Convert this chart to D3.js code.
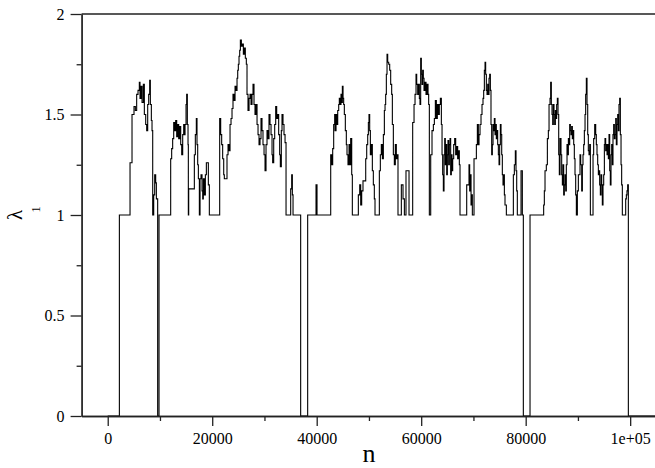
<!DOCTYPE html>
<html>
<head>
<meta charset="utf-8">
<script src="https://cdn.jsdelivr.net/npm/d3@7"></script>
<style>
    html, body { margin: 0; padding: 0; background: #ffffff; }
    svg { display: block; }
</style>
</head>
<body>
<div id="chart"></div>
<script>
// step positions (n) and the value of lambda_1 held from each position on
const stepN = [
    0, 2230, 4270, 4650, 5030, 5290, 5540, 5800, 6050, 6180,
    6370, 6570, 6820, 7010, 7270, 7460, 7650, 7840, 8030, 8160,
    8350, 8480, 8610, 8800, 8990, 9180, 9310, 9560, 9820, 12050,
    12240, 12430, 12630, 12820, 13010, 13200, 13390, 13580, 13770, 13970,
    14160, 14350, 14540, 14730, 14800, 14990, 15110, 15240, 15370, 15430,
    15500, 16580, 16770, 16960, 17090, 17220, 17350, 17540, 17670, 17860,
    18050, 18180, 18300, 18500, 18690, 18880, 19260, 19450, 21430, 21620,
    21810, 22000, 22200, 22320, 22830, 23030, 23220, 23410, 23600, 23790,
    23980, 24170, 24370, 24560, 24750, 24880, 25000, 25130, 25260, 25390,
    25580, 25770, 25960, 26150, 26340, 26530, 26660, 26850, 27050, 27240,
    27430, 27620, 27810, 28000, 28190, 28380, 28580, 28770, 28960, 29150,
    29340, 29530, 29720, 29920, 30110, 30300, 30490, 30680, 30870, 31060,
    31260, 31450, 31570, 31770, 31960, 32150, 32340, 32530, 32720, 32910,
    33040, 33230, 33360, 33550, 33740, 33940, 34130, 35020, 35210, 35340,
    35470, 36930, 38270, 39870, 40060, 42680, 42870, 43060, 43250, 43440,
    43510, 43700, 43820, 44020, 44210, 44330, 44530, 44650, 44780, 44910,
    45040, 45160, 45290, 45480, 45670, 45800, 45990, 46190, 46380, 46500,
    46700, 46820, 47970, 48230, 48420, 48610, 48860, 49380, 49570, 49760,
    49890, 50010, 50140, 50270, 50460, 50650, 50840, 51030, 51160, 51990,
    52180, 52370, 52570, 52760, 52950, 53080, 53200, 53330, 53460, 53590,
    53780, 53970, 54160, 54350, 54480, 54670, 54860, 55050, 55240, 55440,
    55560, 56200, 56520, 56780, 57090, 57670, 58370, 58630, 58820, 59010,
    59140, 59330, 59520, 59650, 59770, 59900, 60030, 60160, 60280, 60410,
    60540, 60730, 60920, 61110, 61310, 61430, 61560, 61820, 62070, 62330,
    62520, 62710, 62900, 63090, 63280, 63470, 63670, 63860, 63990, 64110,
    64240, 64370, 64500, 64620, 64750, 64880, 65010, 65130, 65260, 65390,
    65520, 65640, 65770, 65900, 66030, 66220, 66410, 66600, 66790, 66980,
    67180, 67300, 67430, 68710, 69150, 69280, 69410, 69540, 69660, 69790,
    70110, 70560, 70750, 70940, 71070, 71260, 71450, 71640, 71830, 71960,
    72090, 72220, 72340, 72470, 72600, 72730, 72850, 72980, 73110, 73240,
    73360, 73490, 73620, 73750, 73870, 74000, 74130, 74260, 74380, 74510,
    74640, 74770, 74900, 75020, 75150, 75280, 75410, 75530, 75660, 75790,
    75920, 76040, 76300, 77640, 77830, 78020, 78150, 78280, 78400, 79110,
    79360, 79550, 80830, 83440, 83570, 83700, 83950, 84150, 84340, 84470,
    84660, 84780, 84910, 85040, 85170, 85290, 85420, 85550, 85680, 85800,
    85930, 86060, 86190, 86320, 86440, 86570, 86760, 86890, 87020, 87140,
    87270, 87400, 87530, 87660, 87780, 87910, 88040, 88170, 88290, 88420,
    88550, 88680, 88800, 88930, 89060, 89190, 89310, 89440, 89570, 89700,
    89890, 90080, 90400, 90530, 90720, 90850, 90970, 91100, 91230, 91360,
    91480, 91610, 91740, 91870, 91990, 92120, 92250, 92380, 92890, 93010,
    93210, 93400, 93520, 93650, 93780, 93910, 94040, 94160, 94290, 94420,
    94550, 94670, 94800, 94930, 95060, 95180, 95310, 95440, 95570, 95690,
    95820, 95950, 96080, 96200, 96330, 96460, 96590, 96710, 96840, 96970,
    97100, 97230, 97350, 97480, 97610, 97740, 97860, 97990, 98120, 98250,
    98370, 98500, 99140, 99270, 99390, 99520, 99650, 105000
];

const stepLambda = [
    0, 1.0, 1.26, 1.5, 1.54, 1.52, 1.6, 1.62, 1.66, 1.58,
    1.64, 1.56, 1.65, 1.5, 1.45, 1.42, 1.55, 1.6, 1.67, 1.55,
    1.47, 1.42, 1.0, 1.1, 1.2, 1.16, 1.08, 0, 1.0, 1.28,
    1.33, 1.38, 1.46, 1.42, 1.47, 1.39, 1.45, 1.38, 1.44, 1.35,
    1.3, 1.4, 1.45, 1.4, 1.45, 1.55, 1.6, 1.45, 1.35, 1.0,
    1.13, 1.3, 1.4, 1.48, 1.35, 1.25, 1.18, 1.0, 1.18, 1.2,
    1.12, 1.08, 1.18, 1.1, 1.2, 1.26, 1.15, 1.0, 1.48, 1.4,
    1.35, 1.28, 1.2, 1.18, 1.3, 1.35, 1.32, 1.45, 1.48, 1.53,
    1.6, 1.57, 1.64, 1.62, 1.68, 1.72, 1.75, 1.79, 1.82, 1.87,
    1.84, 1.85, 1.8, 1.83, 1.78, 1.75, 1.6, 1.52, 1.58, 1.6,
    1.55, 1.6, 1.65, 1.55, 1.5, 1.55, 1.45, 1.4, 1.35, 1.38,
    1.48, 1.42, 1.35, 1.3, 1.22, 1.35, 1.42, 1.38, 1.5, 1.45,
    1.4, 1.3, 1.26, 1.38, 1.45, 1.54, 1.48, 1.5, 1.4, 1.3,
    1.24, 1.42, 1.5, 1.45, 1.4, 1.36, 1.0, 1.13, 1.2, 1.1,
    1.0, 0, 1.0, 1.15, 1.0, 1.3, 1.25, 1.33, 1.45, 1.5,
    1.42, 1.5, 1.45, 1.52, 1.55, 1.58, 1.55, 1.6, 1.56, 1.64,
    1.58, 1.55, 1.5, 1.42, 1.35, 1.3, 1.25, 1.35, 1.25, 1.38,
    1.2, 1.0, 1.1, 1.15, 1.05, 1.12, 1.17, 1.28, 1.35, 1.4,
    1.46, 1.5, 1.42, 1.3, 1.35, 1.22, 1.15, 1.08, 1.0, 1.22,
    1.3, 1.35, 1.28, 1.4, 1.52, 1.55, 1.6, 1.7, 1.8, 1.76,
    1.75, 1.72, 1.65, 1.6, 1.45, 1.3, 1.25, 1.35, 1.28, 1.3,
    1.0, 1.15, 1.08, 1.0, 1.22, 1.0, 1.46, 1.55, 1.6, 1.7,
    1.65, 1.6, 1.65, 1.58, 1.55, 1.78, 1.7, 1.65, 1.72, 1.68,
    1.62, 1.66, 1.6, 1.65, 1.6, 1.55, 1.0, 1.3, 1.42, 1.45,
    1.48, 1.57, 1.48, 1.55, 1.5, 1.55, 1.58, 1.45, 1.3, 1.2,
    1.12, 1.3, 1.38, 1.25, 1.35, 1.2, 1.3, 1.37, 1.25, 1.35,
    1.38, 1.2, 1.3, 1.22, 1.28, 1.35, 1.38, 1.3, 1.34, 1.28,
    1.32, 1.25, 1.0, 1.15, 1.25, 1.12, 1.2, 1.05, 1.1, 1.0,
    1.28, 1.35, 1.45, 1.35, 1.4, 1.45, 1.5, 1.55, 1.58, 1.62,
    1.72, 1.76, 1.7, 1.62, 1.6, 1.65, 1.6, 1.68, 1.7, 1.62,
    1.45, 1.3, 1.35, 1.45, 1.42, 1.48, 1.4, 1.45, 1.38, 1.42,
    1.35, 1.3, 1.25, 1.35, 1.45, 1.4, 1.3, 1.2, 1.15, 1.2,
    1.1, 1.05, 1.0, 1.2, 1.25, 1.32, 1.22, 1.12, 1.0, 1.22,
    1.0, 0, 1.0, 1.05, 1.12, 1.22, 1.25, 1.38, 1.42, 1.55,
    1.58, 1.66, 1.55, 1.5, 1.45, 1.55, 1.5, 1.45, 1.52, 1.48,
    1.55, 1.58, 1.5, 1.3, 1.2, 1.38, 1.3, 1.2, 1.15, 1.25,
    1.1, 1.15, 1.2, 1.12, 1.25, 1.35, 1.3, 1.38, 1.35, 1.45,
    1.42, 1.4, 1.44, 1.38, 1.42, 1.35, 1.28, 1.2, 1.1, 1.0,
    1.12, 1.2, 1.3, 1.25, 1.12, 1.25, 1.3, 1.35, 1.42, 1.5,
    1.6, 1.68, 1.55, 1.4, 1.32, 1.3, 1.35, 1.0, 1.3, 1.38,
    1.45, 1.4, 1.35, 1.3, 1.25, 1.2, 1.22, 1.15, 1.1, 1.2,
    1.15, 1.05, 1.15, 1.2, 1.35, 1.38, 1.32, 1.35, 1.3, 1.35,
    1.28, 1.4, 1.22, 1.15, 1.3, 1.35, 1.25, 1.4, 1.45, 1.38,
    1.4, 1.48, 1.35, 1.45, 1.5, 1.42, 1.55, 1.58, 1.4, 1.25,
    1.15, 1.0, 1.08, 1.1, 1.12, 1.15, 0, 0
];

const xMajorTicks = [0, 20000, 40000, 60000, 80000, 100000];
const xMinorTicks = [10000, 30000, 50000, 70000, 90000];
const yMajorTicks = [0, 0.5, 1, 1.5, 2];
const yMinorTicks = [0.25, 0.75, 1.25, 1.75];

function drawLambdaChart() {
    const container = d3.select("#chart");
    if (stepN.length !== stepLambda.length) {
        console.error("step arrays differ:", stepN.length, stepLambda.length);
    }

    const width = 655;
    const height = 468;
    const left = 81.6, right = 656.3, top = 14, bottom = 416;
    const axisColor = "#222";
    const font = "'Liberation Serif', 'DejaVu Serif', serif";

    const svg = container
        .append("svg")
        .attr("width", width)
        .attr("height", height);

    const x = d3.scaleLinear().domain([-5000, 105000]).range([left, right]);
    const y = d3.scaleLinear().domain([0, 2]).range([bottom, top]);

    const points = stepN.map((n, i) => [n, stepLambda[i]]);

    const line = d3.line()
        .x(d => x(d[0]))
        .y(d => y(d[1]))
        .curve(d3.curveStepAfter);

    svg.append("path")
        .datum(points)
        .attr("d", line)
        .attr("fill", "none")
        .attr("stroke", "#000")
        .attr("stroke-width", 1.1);

    // frame (top and right edges)
    svg.append("path")
        .attr("d", `M${left},${top}H${right}V${bottom}`)
        .attr("fill", "none")
        .attr("stroke", axisColor)
        .attr("stroke-width", 1.3);

    const fmtX = d => d === 100000 ? "1e+05" : String(d);

    const xAxis = svg.append("g")
        .attr("transform", `translate(0,${bottom})`)
        .call(d3.axisBottom(x).tickValues(xMajorTicks).tickFormat(fmtX)
            .tickSize(10).tickSizeOuter(0).tickPadding(6.5));

    svg.append("g")
        .attr("transform", `translate(0,${bottom})`)
        .call(d3.axisBottom(x).tickValues(xMinorTicks).tickFormat("")
            .tickSize(5).tickSizeOuter(0));

    const yAxis = svg.append("g")
        .attr("transform", `translate(${left},0)`)
        .call(d3.axisLeft(y).tickValues(yMajorTicks).tickFormat(d => String(d))
            .tickSize(11).tickSizeOuter(0).tickPadding(6));

    svg.append("g")
        .attr("transform", `translate(${left},0)`)
        .call(d3.axisLeft(y).tickValues(yMinorTicks).tickFormat("")
            .tickSize(5).tickSizeOuter(0));

    svg.selectAll(".domain, .tick line")
        .attr("stroke", axisColor)
        .attr("stroke-width", 1.3);

    svg.selectAll(".tick text")
        .attr("fill", "#000")
        .style("font-family", font)
        .style("font-size", "16px");

    // axis titles
    svg.append("text")
        .attr("x", (left + right) / 2)
        .attr("y", 462)
        .attr("text-anchor", "middle")
        .style("font-family", font)
        .style("font-size", "26px")
        .text("n");

    svg.append("text")
        .attr("transform", "translate(22,215) rotate(-90)")
        .attr("text-anchor", "middle")
        .style("font-family", font)
        .style("font-size", "21px")
        .text("λ");

    svg.append("text")
        .attr("transform", "translate(40,209.5) rotate(-90)")
        .attr("text-anchor", "middle")
        .style("font-family", font)
        .style("font-size", "13px")
        .text("1");
}

drawLambdaChart();
</script>
</body>
</html>
